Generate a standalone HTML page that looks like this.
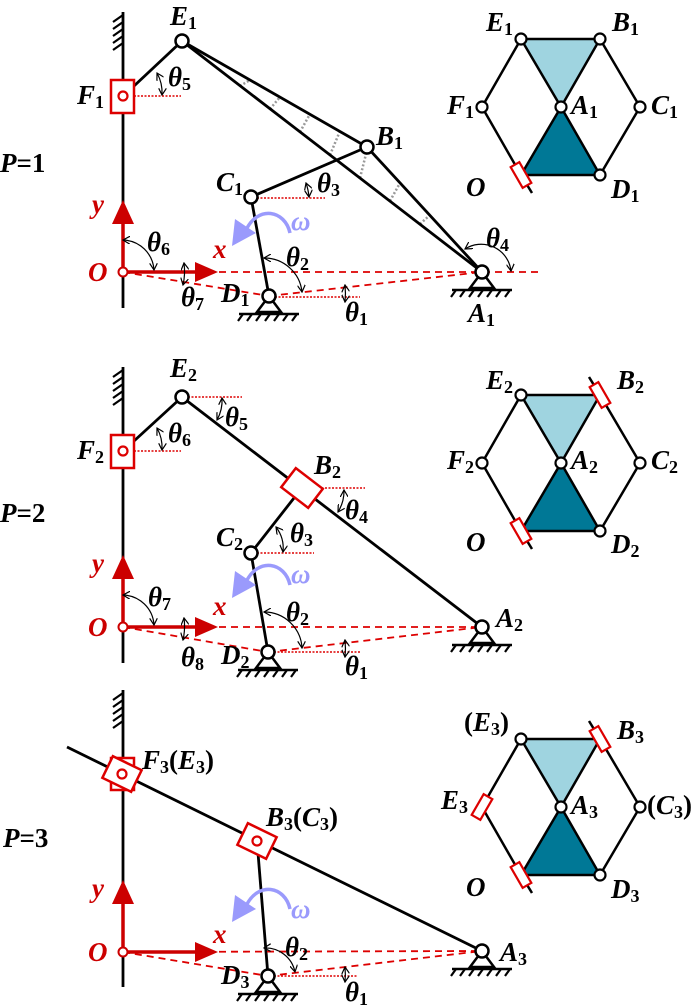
<!DOCTYPE html>
<html><head><meta charset="utf-8"><style>
html,body{margin:0;padding:0;background:#fff;}
svg{display:block;}
text{font-family:"Liberation Serif",serif;font-weight:bold;}
.l{font-style:italic;font-size:27px;}
.s{font-style:normal;font-size:18px;}
.p{font-style:italic;font-size:27px;}
</style></head><body>
<svg width="700" height="1008" viewBox="0 0 700 1008" xmlns="http://www.w3.org/2000/svg">
<defs>
<marker id="ar" markerWidth="8" markerHeight="8" refX="7" refY="4" orient="auto-start-reverse" markerUnits="userSpaceOnUse">
<path d="M0,0 L7,4 L0,8" fill="none" stroke="#000" stroke-width="1.2"/></marker>
<g id="hex">
<polygon points="521,39 600,39 561,107" fill="#9fd4e0" stroke="#000" stroke-width="2.5"/>
<polygon points="561,107 521,175 600,175" fill="#007896" stroke="#000" stroke-width="2.5"/>
<polyline points="521,39 482,107 521,175" fill="none" stroke="#000" stroke-width="2.5"/>
<polyline points="600,39 640,107 600,175" fill="none" stroke="#000" stroke-width="2.5"/>
<line x1="521" y1="175" x2="532" y2="193" stroke="#000" stroke-width="2.5"/>
<circle cx="561" cy="107" r="5.5" fill="#fff" stroke="#000" stroke-width="2.2"/>
<rect x="516" y="163" width="10" height="24" fill="#fff" stroke="#d00" stroke-width="2.2" transform="rotate(-30 521 175)"/>
<circle cx="600" cy="175" r="5.5" fill="#fff" stroke="#000" stroke-width="2.2"/>
</g>
<g id="gnd">
<polygon points="0,0 -12,16 12,16" fill="#fff" stroke="#000" stroke-width="2.5"/>
<line x1="-30" y1="18" x2="30" y2="18" stroke="#000" stroke-width="2.5"/>
<path d="M-26,18 l-5,7 M-17,18 l-5,7 M-8,18 l-5,7 M1,18 l-5,7 M10,18 l-5,7 M19,18 l-5,7 M28,18 l-5,7" stroke="#000" stroke-width="2.2"/>
<circle cx="0" cy="0" r="6.5" fill="#fff" stroke="#000" stroke-width="2.5"/>
</g>
<g id="wall">
<path d="M123,3 l-10,7 M123,10 l-10,7 M123,17 l-10,7 M123,24 l-10,7 M123,31 l-10,7" stroke="#000" stroke-width="2.2"/>
</g>
<g id="axes">
<line x1="123" y1="0" x2="198" y2="0" stroke="#c00" stroke-width="3.5"/>
<polygon points="218,0 195,-10 195,10" fill="#c00"/>
<line x1="123" y1="0" x2="123" y2="-52" stroke="#c00" stroke-width="3.5"/>
<polygon points="123,-72 112,-48 134,-48" fill="#c00"/>
<circle cx="123" cy="0" r="4.5" fill="#fff" stroke="#c00" stroke-width="2"/>
</g>
<g id="omega">
<path d="M290,233 C285,210 258,205 246,230" fill="none" stroke="#9a9afc" stroke-width="3.5"/>
<polygon points="232,246 235,219 256,233" fill="#9a9afc"/>
</g>
</defs>

<!-- ============ PANEL 1 ============ -->
<text class="p" x="0" y="172">P<tspan font-style="normal">=1</tspan></text>
<line x1="123" y1="12" x2="123" y2="308" stroke="#000" stroke-width="2.8"/>
<use href="#wall" y="12"/>
<g stroke="#999" stroke-width="2.5" stroke-dasharray="2,2">
<line x1="240" y1="86" x2="250" y2="80"/>
<line x1="270" y1="109" x2="280" y2="97"/>
<line x1="300" y1="132" x2="310" y2="114"/>
<line x1="330" y1="155" x2="340" y2="131"/>
<line x1="360" y1="178" x2="367" y2="150"/>
<line x1="390" y1="201" x2="400" y2="183"/>
<line x1="420" y1="224" x2="430" y2="215"/>
</g>
<g stroke="#000" stroke-width="2.8" fill="none">
<line x1="182" y1="41" x2="367" y2="147"/>
<line x1="182" y1="41" x2="482" y2="272"/>
<line x1="367" y1="147" x2="482" y2="272"/>
<line x1="251" y1="197" x2="367" y2="147"/>
<line x1="251" y1="197" x2="269" y2="296"/>
<line x1="134" y1="86" x2="182" y2="41"/>
</g>
<g stroke="#d00" stroke-width="1.8" fill="none" stroke-dasharray="7,5">
<line x1="123" y1="272" x2="540" y2="272"/>
<line x1="123" y1="272" x2="269" y2="296"/>
<line x1="269" y1="296" x2="482" y2="272"/>
</g>
<g stroke="#d00" stroke-width="1.5" stroke-dasharray="2,1.5">
<line x1="134" y1="96" x2="181" y2="96"/>
<line x1="257" y1="198" x2="325" y2="198"/>
<line x1="275" y1="297" x2="360" y2="297"/>
</g>
<rect x="111" y="80" width="23" height="33" fill="#fff" stroke="#d00" stroke-width="2.5"/>
<circle cx="123" cy="96" r="4.5" fill="#fff" stroke="#d00" stroke-width="2.2"/>
<use href="#axes" y="272"/>
<use href="#gnd" x="269" y="296"/>
<use href="#gnd" x="482" y="272"/>
<g fill="#fff" stroke="#000" stroke-width="2.5">
<circle cx="182" cy="41" r="6.5"/><circle cx="367" cy="147" r="6.5"/><circle cx="251" cy="197" r="6.5"/>
</g>
<use href="#omega"/>
<g stroke="#000" stroke-width="1.2" fill="none" marker-start="url(#ar)" marker-end="url(#ar)">
<path d="M157,73 A40,40 0 0 1 162,95"/>
<path d="M123,240 A32,32 0 0 1 154,270"/>
<path d="M184,263 A61,61 0 0 1 183,285"/>
<path d="M264,258 A38,38 0 0 1 302,292"/>
<path d="M345,285 A80,80 0 0 1 345,302"/>
<path d="M306,183 A58,58 0 0 1 309,197"/>
<path d="M465,249 A30,30 0 0 1 511,271"/>
</g>
<g class="l">
<text x="170" y="25">E<tspan class="s" dy="4">1</tspan></text>
<text x="77" y="104">F<tspan class="s" dy="4">1</tspan></text>
<text x="376" y="145">B<tspan class="s" dy="4">1</tspan></text>
<text x="216" y="191">C<tspan class="s" dy="4">1</tspan></text>
<text x="221" y="302">D<tspan class="s" dy="4">1</tspan></text>
<text x="468" y="322">A<tspan class="s" dy="4">1</tspan></text>
<text x="168" y="86">θ<tspan class="s" dy="4">5</tspan></text>
<text x="317" y="192">θ<tspan class="s" dy="4">3</tspan></text>
<text x="147" y="251">θ<tspan class="s" dy="4">6</tspan></text>
<text x="181" y="306">θ<tspan class="s" dy="4">7</tspan></text>
<text x="286" y="266">θ<tspan class="s" dy="4">2</tspan></text>
<text x="345" y="321">θ<tspan class="s" dy="4">1</tspan></text>
<text x="486" y="247">θ<tspan class="s" dy="4">4</tspan></text>
<text x="213" y="258" fill="#c00">x</text>
<text x="92" y="213" fill="#c00">y</text>
<text x="88" y="281" fill="#c00">O</text>
<text x="291" y="230" fill="#9a9afc">ω</text>
</g>
<use href="#hex"/>
<g fill="#fff" stroke="#000" stroke-width="2.2">
<circle cx="521" cy="39" r="5.5"/><circle cx="600" cy="39" r="5.5"/><circle cx="482" cy="107" r="5.5"/><circle cx="640" cy="107" r="5.5"/>
</g>
<g class="l">
<text x="486" y="31">E<tspan class="s" dy="4">1</tspan></text>
<text x="612" y="31">B<tspan class="s" dy="4">1</tspan></text>
<text x="447" y="114">F<tspan class="s" dy="4">1</tspan></text>
<text x="571" y="114">A<tspan class="s" dy="4">1</tspan></text>
<text x="651" y="114">C<tspan class="s" dy="4">1</tspan></text>
<text x="466" y="196">O</text>
<text x="611" y="198">D<tspan class="s" dy="4">1</tspan></text>
</g>

<!-- ============ PANEL 2 ============ -->
<text class="p" x="0" y="522">P<tspan font-style="normal">=2</tspan></text>
<line x1="123" y1="367" x2="123" y2="663" stroke="#000" stroke-width="2.8"/>
<use href="#wall" y="367"/>
<g stroke="#000" stroke-width="2.8" fill="none">
<line x1="182" y1="397" x2="482" y2="627"/>
<line x1="251" y1="553" x2="294" y2="498"/>
<line x1="251" y1="553" x2="268" y2="652"/>
<line x1="134" y1="441" x2="182" y2="397"/>
</g>
<g stroke="#d00" stroke-width="1.8" fill="none" stroke-dasharray="7,5">
<line x1="123" y1="627" x2="482" y2="627"/>
<line x1="123" y1="627" x2="268" y2="652"/>
<line x1="268" y1="652" x2="482" y2="627"/>
</g>
<g stroke="#d00" stroke-width="1.5" stroke-dasharray="2,1.5">
<line x1="188" y1="397" x2="242" y2="397"/>
<line x1="134" y1="451" x2="181" y2="451"/>
<line x1="318" y1="488" x2="365" y2="488"/>
<line x1="257" y1="553" x2="314" y2="553"/>
<line x1="274" y1="652" x2="360" y2="652"/>
</g>
<rect x="111" y="435" width="23" height="33" fill="#fff" stroke="#d00" stroke-width="2.5"/>
<circle cx="123" cy="451" r="4.5" fill="#fff" stroke="#d00" stroke-width="2.2"/>
<rect x="285" y="476" width="34" height="24" fill="#fff" stroke="#d00" stroke-width="2.5" transform="rotate(37.5 302 488)"/>
<use href="#axes" y="627"/>
<use href="#gnd" x="268" y="652"/>
<use href="#gnd" x="482" y="627"/>
<g fill="#fff" stroke="#000" stroke-width="2.5">
<circle cx="182" cy="397" r="6.5"/><circle cx="251" cy="553" r="6.5"/>
</g>
<use href="#omega" y="352"/>
<g stroke="#000" stroke-width="1.2" fill="none" marker-start="url(#ar)" marker-end="url(#ar)">
<path d="M222,398 A40,40 0 0 1 217,420"/>
<path d="M157,428 A40,40 0 0 1 162,450"/>
<path d="M344,490 A40,40 0 0 1 338,512"/>
<path d="M276,527 A35,35 0 0 1 283,552"/>
<path d="M123,595 A32,32 0 0 1 154,625"/>
<path d="M184,618 A61,61 0 0 1 183,640"/>
<path d="M264,612 A38,38 0 0 1 302,648"/>
<path d="M345,640 A80,80 0 0 1 345,657"/>
</g>
<g class="l">
<text x="170" y="377">E<tspan class="s" dy="4">2</tspan></text>
<text x="77" y="459">F<tspan class="s" dy="4">2</tspan></text>
<text x="314" y="474">B<tspan class="s" dy="4">2</tspan></text>
<text x="225" y="426">θ<tspan class="s" dy="4">5</tspan></text>
<text x="168" y="442">θ<tspan class="s" dy="4">6</tspan></text>
<text x="345" y="519">θ<tspan class="s" dy="4">4</tspan></text>
<text x="290" y="542">θ<tspan class="s" dy="4">3</tspan></text>
<text x="216" y="546">C<tspan class="s" dy="4">2</tspan></text>
<text x="148" y="606">θ<tspan class="s" dy="4">7</tspan></text>
<text x="286" y="621">θ<tspan class="s" dy="4">2</tspan></text>
<text x="496" y="627">A<tspan class="s" dy="4">2</tspan></text>
<text x="181" y="666">θ<tspan class="s" dy="4">8</tspan></text>
<text x="221" y="664">D<tspan class="s" dy="4">2</tspan></text>
<text x="345" y="675">θ<tspan class="s" dy="4">1</tspan></text>
<text x="213" y="615" fill="#c00">x</text>
<text x="92" y="572" fill="#c00">y</text>
<text x="88" y="636" fill="#c00">O</text>
<text x="291" y="583" fill="#9a9afc">ω</text>
</g>
<g transform="translate(0,356)">
<use href="#hex"/>
<line x1="600" y1="39" x2="589" y2="21" stroke="#000" stroke-width="2.5"/>
<rect x="595" y="27" width="10" height="24" fill="#fff" stroke="#d00" stroke-width="2.2" transform="rotate(-30 600 39)"/>
<g fill="#fff" stroke="#000" stroke-width="2.2">
<circle cx="521" cy="39" r="5.5"/><circle cx="482" cy="107" r="5.5"/><circle cx="640" cy="107" r="5.5"/>
</g>
</g>
<g class="l">
<text x="486" y="389">E<tspan class="s" dy="4">2</tspan></text>
<text x="617" y="389">B<tspan class="s" dy="4">2</tspan></text>
<text x="447" y="469">F<tspan class="s" dy="4">2</tspan></text>
<text x="571" y="469">A<tspan class="s" dy="4">2</tspan></text>
<text x="651" y="469">C<tspan class="s" dy="4">2</tspan></text>
<text x="466" y="551">O</text>
<text x="611" y="553">D<tspan class="s" dy="4">2</tspan></text>
</g>

<!-- ============ PANEL 3 ============ -->
<text class="p" x="3" y="847">P<tspan font-style="normal">=3</tspan></text>
<line x1="123" y1="690" x2="123" y2="987" stroke="#000" stroke-width="2.8"/>
<use href="#wall" y="690"/>
<g stroke="#000" stroke-width="2.8" fill="none">
<line x1="67" y1="747" x2="482" y2="951"/>
<line x1="258" y1="853" x2="268" y2="976"/>
</g>
<g stroke="#d00" stroke-width="1.8" fill="none" stroke-dasharray="7,5">
<line x1="123" y1="952" x2="482" y2="951"/>
<line x1="123" y1="952" x2="268" y2="976"/>
<line x1="268" y1="976" x2="482" y2="951"/>
</g>
<g stroke="#d00" stroke-width="1.5" stroke-dasharray="2,1.5">
<line x1="274" y1="976" x2="358" y2="976"/>
</g>
<rect x="111" y="758" width="23" height="32" fill="#fff" stroke="#d00" stroke-width="2.5"/>
<rect x="106" y="762" width="32" height="24" fill="#fff" stroke="#d00" stroke-width="2.5" transform="rotate(26 122 774)"/>
<circle cx="122" cy="774" r="4.5" fill="#fff" stroke="#d00" stroke-width="2.2"/>
<rect x="241" y="829" width="32" height="24" fill="#fff" stroke="#d00" stroke-width="2.5" transform="rotate(26 257 841)"/>
<circle cx="257" cy="841" r="4.5" fill="#fff" stroke="#d00" stroke-width="2.2"/>
<use href="#axes" y="952"/>
<use href="#gnd" x="268" y="976"/>
<use href="#gnd" x="482" y="951"/>
<use href="#omega" y="676"/>
<g stroke="#000" stroke-width="1.2" fill="none" marker-start="url(#ar)" marker-end="url(#ar)">
<path d="M264,948 A30,30 0 0 1 295,972"/>
<path d="M345,967 A80,80 0 0 1 345,982"/>
</g>
<g class="l">
<text x="142" y="769">F<tspan class="s" dy="4">3</tspan><tspan font-style="normal" dy="-4">(</tspan>E<tspan class="s" dy="4">3</tspan><tspan font-style="normal" dy="-4">)</tspan></text>
<text x="266" y="826">B<tspan class="s" dy="4">3</tspan><tspan font-style="normal" dy="-4">(</tspan>C<tspan class="s" dy="4">3</tspan><tspan font-style="normal" dy="-4">)</tspan></text>
<text x="92" y="897" fill="#c00">y</text>
<text x="291" y="918" fill="#9a9afc">ω</text>
<text x="213" y="943" fill="#c00">x</text>
<text x="88" y="961" fill="#c00">O</text>
<text x="285" y="956">θ<tspan class="s" dy="4">2</tspan></text>
<text x="500" y="961">A<tspan class="s" dy="4">3</tspan></text>
<text x="221" y="984">D<tspan class="s" dy="4">3</tspan></text>
<text x="345" y="1001">θ<tspan class="s" dy="4">1</tspan></text>
</g>
<g transform="translate(0,700)">
<use href="#hex"/>
<line x1="600" y1="39" x2="589" y2="21" stroke="#000" stroke-width="2.5"/>
<rect x="595" y="27" width="10" height="24" fill="#fff" stroke="#d00" stroke-width="2.2" transform="rotate(-30 600 39)"/>
<rect x="477" y="95" width="10" height="24" fill="#fff" stroke="#d00" stroke-width="2.2" transform="rotate(30 482 107)"/>
<g fill="#fff" stroke="#000" stroke-width="2.2">
<circle cx="521" cy="39" r="5.5"/><circle cx="640" cy="107" r="5.5"/>
</g>
</g>
<g class="l">
<text x="464" y="731"><tspan font-style="normal">(</tspan>E<tspan class="s" dy="4">3</tspan><tspan font-style="normal" dy="-4">)</tspan></text>
<text x="617" y="739">B<tspan class="s" dy="4">3</tspan></text>
<text x="441" y="809">E<tspan class="s" dy="4">3</tspan></text>
<text x="571" y="814">A<tspan class="s" dy="4">3</tspan></text>
<text x="647" y="814"><tspan font-style="normal">(</tspan>C<tspan class="s" dy="4">3</tspan><tspan font-style="normal" dy="-4">)</tspan></text>
<text x="466" y="896">O</text>
<text x="611" y="898">D<tspan class="s" dy="4">3</tspan></text>
</g>
</svg>
</body></html>
